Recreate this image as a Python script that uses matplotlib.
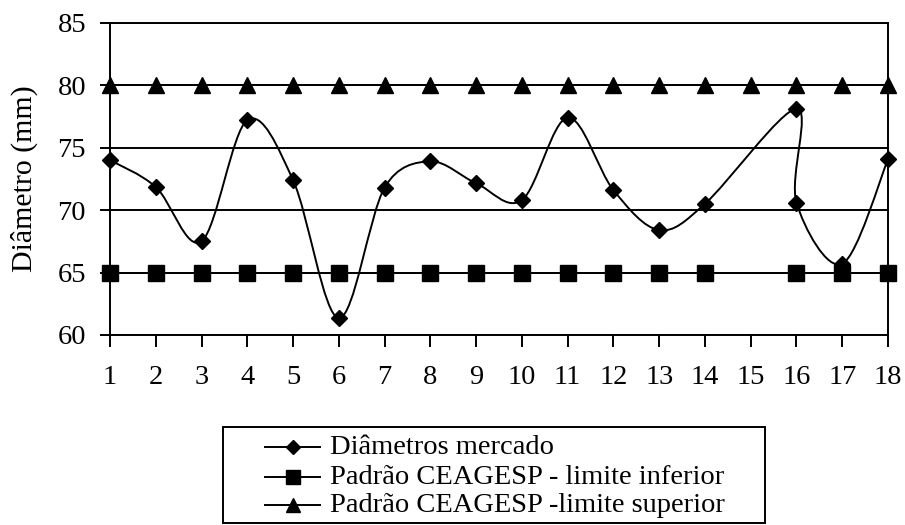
import matplotlib
matplotlib.use("Agg")
import matplotlib.pyplot as plt
import numpy as np
from matplotlib.path import Path
from matplotlib.patches import PathPatch, Rectangle
from matplotlib.lines import Line2D

plt.rcParams['font.family'] = ['Liberation Serif', 'DejaVu Serif']

# dados
x_mercado = [1, 2, 3, 4, 5, 6, 7, 8, 9, 10, 11, 12, 13, 14, 16, 16, 17, 18]
y_mercado = [74.0, 71.85, 67.5, 77.2, 72.4, 61.35, 71.8, 73.9, 72.15, 70.8,
             77.4, 71.6, 68.4, 70.5, 78.1, 70.6, 65.7, 74.05]
x_inferior = [1, 2, 3, 4, 5, 6, 7, 8, 9, 10, 11, 12, 13, 14, 16, 17, 18]
y_inferior = [65] * len(x_inferior)
x_superior = list(range(1, 19))
y_superior = [80] * len(x_superior)
labels = ['Diâmetros mercado',
          'Padrão CEAGESP - limite inferior',
          'Padrão CEAGESP -limite superior']

W, H = 905, 525
FS = 20.5
fig = plt.figure(figsize=(W / 100, H / 100), dpi=100)
ax = fig.add_axes([110 / W, 1 - 335 / H, 778 / W, (335 - 22.7) / H])

ax.set_xlim(1, 18)
ax.set_ylim(60, 85)
ax.set_xticks(range(1, 19))
ax.set_yticks(range(60, 86, 5))
ax.tick_params(axis='x', direction='out', length=8.6, width=1.4,
               labelsize=FS, pad=13)
ax.tick_params(axis='y', direction='out', length=7.2, width=1.4,
               labelsize=FS, pad=10)
for s in ax.spines.values():
    s.set_linewidth(1.4)
ax.yaxis.grid(True, color='black', linewidth=1.4)
ax.set_axisbelow(True)
ax.set_ylabel('Diâmetro (mm)', fontsize=21.5)
ax.yaxis.set_label_coords(-0.093, 0.5)

# curva suavizada (bezier tipo Catmull-Rom, como no Excel), em coordenadas de tela
pts = ax.transData.transform(np.column_stack([x_mercado, y_mercado]))
n = len(pts)
verts = [pts[0]]
codes = [Path.MOVETO]
for i in range(n - 1):
    p0 = pts[max(i - 1, 0)]
    p1 = pts[i]
    p2 = pts[i + 1]
    p3 = pts[min(i + 2, n - 1)]
    d12 = np.hypot(*(p2 - p1))
    d02 = np.hypot(*(p2 - p0))
    d13 = np.hypot(*(p3 - p1))
    f = min(1 / 6, d12 / (2 * d02)) if d02 > 0 else 0
    g = min(1 / 6, d12 / (2 * d13)) if d13 > 0 else 0
    c1 = p1 + (p2 - p0) * f
    c2 = p2 - (p3 - p1) * g
    verts += [c1, c2, p2]
    codes += [Path.CURVE4] * 3
verts = ax.transData.inverted().transform(np.array(verts))
ax.add_patch(PathPatch(Path(verts, codes), facecolor='none',
                       edgecolor='black', linewidth=1.4, zorder=3))
ax.plot(x_mercado, y_mercado, linestyle='none', marker='D', markersize=8,
        color='black', clip_on=False, zorder=4)

ax.plot(x_inferior, y_inferior, '-', color='black', linewidth=1.4,
        marker='s', markersize=11.5, clip_on=False, zorder=4)
ax.plot(x_superior, y_superior, '-', color='black', linewidth=1.4,
        marker='^', markersize=12, clip_on=False, zorder=4)

# legenda desenhada à mão (caixa centrada sob o gráfico)
def fx(px):
    return px / W

def fy(py):
    return 1 - py / H

fig.add_artist(Rectangle((fx(223), fy(523)), fx(765) - fx(223), fy(427) - fy(523),
                         transform=fig.transFigure, facecolor='white',
                         edgecolor='black', linewidth=1.4))
marks = [('D', 7), ('s', 10), ('^', 10.5)]
rows = [447, 477, 505]
for (m, ms), lab, yy in zip(marks, labels, rows):
    fig.add_artist(Line2D([fx(265), fx(320)], [fy(yy), fy(yy)],
                          transform=fig.transFigure, color='black', linewidth=1.4))
    fig.add_artist(Line2D([fx(292.5)], [fy(yy)], transform=fig.transFigure,
                          marker=m, markersize=ms, color='black'))
    fig.text(fx(330), fy(yy), lab, fontsize=FS, ha='left', va='center')

fig.savefig('out.png', dpi=100)
